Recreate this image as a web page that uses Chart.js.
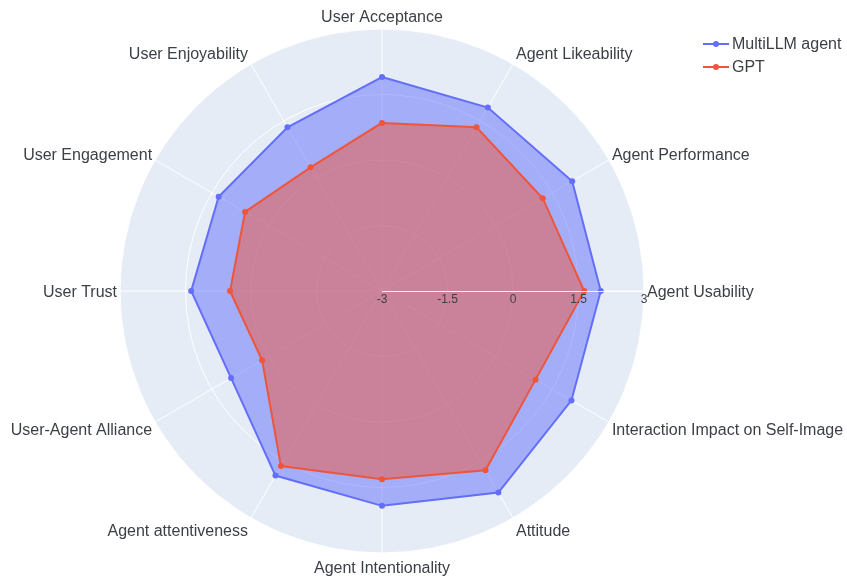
<!DOCTYPE html>
<html>
<head>
<meta charset="utf-8">
<script src="https://cdn.jsdelivr.net/npm/chart.js@4.4.0/dist/chart.umd.min.js"></script>
<style>
  html, body { margin: 0; padding: 0; background: #fff; }
  #wrap { width: 847px; height: 580px; }
</style>
</head>
<body>
<div id="wrap"><canvas id="radar" width="847" height="580"></canvas></div>
<script>
// categories, clockwise from the top (same layout as the original plot)
const categorias = [
    'User Acceptance', 'Agent Likeability', 'Agent Performance', 'Agent Usability',
    'Interaction Impact on Self-Image', 'Attitude', 'Agent Intentionality',
    'Agent attentiveness', 'User-Agent Alliance', 'User Trust', 'User Engagement',
    'User Enjoyability'
];
const multiLLM = [1.90, 1.85, 2.03, 2.01, 2.01, 2.33, 1.92, 1.88, 0.99, 1.37, 1.32, 1.33];
const gpt      = [0.85, 1.33, 1.25, 1.63, 1.06, 1.74, 1.31, 1.63, 0.17, 0.48, 0.62, 0.27];
const ticksRadiales = [-3, -1.5, 0, 1.5, 3];

const colorTexto = '#3b3f46';
const fuente = '"Liberation Sans", Arial, sans-serif';

// fondo polar, eje radial, etiquetas y leyenda al estilo plotly
const decorPolar = {
    id: 'decorPolar',
    beforeDraw(chart) {
        const s = chart.scales.r;
        const ctx = chart.ctx;
        ctx.save();
        ctx.beginPath();
        ctx.arc(s.xCenter, s.yCenter, s.drawingArea, 0, Math.PI * 2);
        ctx.fillStyle = '#E5ECF6';
        ctx.fill();
        ctx.restore();
    },
    afterDatasetsDraw(chart) {
        const s = chart.scales.r;
        const ctx = chart.ctx;
        ctx.save();

        // eje radial hacia la derecha
        ctx.strokeStyle = 'rgba(255,255,255,0.85)';
        ctx.lineWidth = 1;
        ctx.beginPath();
        ctx.moveTo(s.xCenter, s.yCenter + 0.5);
        ctx.lineTo(s.xCenter + s.drawingArea, s.yCenter + 0.5);
        ctx.stroke();

        ctx.fillStyle = colorTexto;
        ctx.font = '12px ' + fuente;
        ctx.textAlign = 'center';
        ctx.textBaseline = 'middle';
        ticksRadiales.forEach(v => {
            const x = s.xCenter + s.getDistanceFromCenterForValue(v);
            ctx.fillText(String(v), x, s.yCenter + 9);
        });

        // etiquetas angulares
        ctx.font = '16px ' + fuente;
        chart.data.labels.forEach((lab, i) => {
            const ang = s.getIndexAngle(i);
            const p = s.getPointPosition(i, s.drawingArea);
            const h = Math.sin(ang);
            const v = Math.cos(ang);
            let x = p.x;
            if (Math.abs(h) < 0.01) {
                ctx.textAlign = 'center';
            } else if (h > 0) {
                ctx.textAlign = 'left';
                x += 3;
            } else {
                ctx.textAlign = 'right';
                x -= 3;
            }
            ctx.fillText(lab, x, p.y - v * 13.5 + 2);
        });

        // leyenda
        chart.data.datasets.forEach((ds, i) => {
            const y = 44 + i * 23;
            ctx.strokeStyle = ds.borderColor;
            ctx.lineWidth = 2;
            ctx.beginPath();
            ctx.moveTo(703, y);
            ctx.lineTo(729, y);
            ctx.stroke();
            ctx.fillStyle = ds.borderColor;
            ctx.beginPath();
            ctx.arc(716, y, 3, 0, Math.PI * 2);
            ctx.fill();
            ctx.fillStyle = colorTexto;
            ctx.textAlign = 'left';
            ctx.fillText(ds.label, 732, y + 1);
        });
        ctx.restore();
    }
};

new Chart(document.getElementById('radar'), {
    type: 'radar',
    data: {
        labels: categorias,
        datasets: [
            {
                label: 'MultiLLM agent',
                data: multiLLM,
                borderColor: '#636efa',
                backgroundColor: 'rgba(99,110,250,0.5)',
                pointBackgroundColor: '#636efa',
                pointBorderWidth: 0,
                pointRadius: 3,
                borderWidth: 2,
                fill: 'start',
                order: 2
            },
            {
                label: 'GPT',
                data: gpt,
                borderColor: '#EF553B',
                backgroundColor: 'rgba(239,85,59,0.5)',
                pointBackgroundColor: '#EF553B',
                pointBorderWidth: 0,
                pointRadius: 3,
                borderWidth: 2,
                fill: 'start',
                order: 1
            }
        ]
    },
    options: {
        responsive: false,
        animation: false,
        devicePixelRatio: 1,
        layout: { padding: { left: 0, right: 83, top: 29, bottom: 27 } },
        plugins: { legend: { display: false }, tooltip: { enabled: false } },
        scales: {
            r: {
                min: -3,
                max: 3,
                ticks: { display: false, stepSize: 1.5 },
                grid: { color: '#ffffff', circular: true, lineWidth: 1 },
                angleLines: { color: '#ffffff', lineWidth: 1 },
                pointLabels: { display: false }
            }
        }
    },
    plugins: [decorPolar]
});
</script>
</body>
</html>
